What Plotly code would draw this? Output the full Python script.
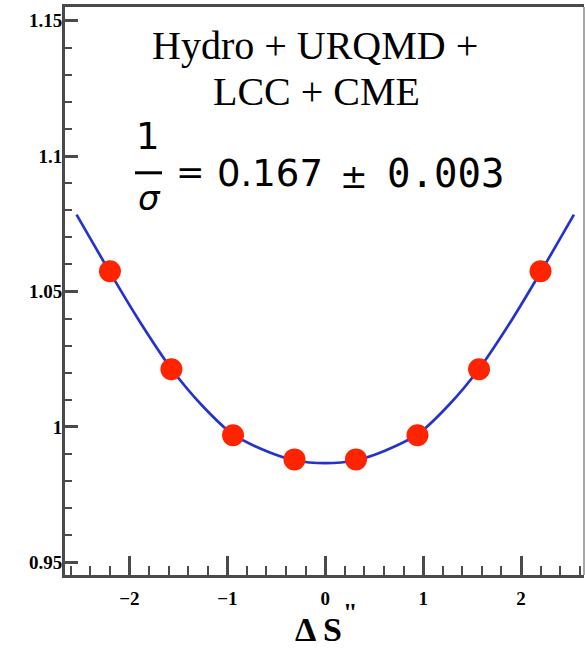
import plotly.graph_objects as go

# ---- data ----
point_x = [-2.199, -1.571, -0.942, -0.314, 0.314, 0.942, 1.571, 2.199]
point_y = [1.0575, 1.0213, 0.9969, 0.9880, 0.9880, 0.9969, 1.0213, 1.0575]

curve_x = [-2.54, -2.205, -1.91, -1.568, -1.26, -0.945, -0.61, -0.316, 0.0,
           0.316, 0.61, 0.945, 1.26, 1.568, 1.91, 2.205, 2.54]
curve_y = [1.0784, 1.0575, 1.0398, 1.0213, 1.0080, 0.9973, 0.9912, 0.9877, 0.9866,
           0.9877, 0.9912, 0.9973, 1.0080, 1.0213, 1.0398, 1.0575, 1.0784]

x_tickvals = [-2, -1, 0, 1, 2]
x_ticktext = ["\u22122", "\u22121", "0", "1", "2"]
y_tickvals = [0.95, 1.0, 1.05, 1.1, 1.15]
y_ticktext = ["0.95", "1", "1.05", "1.1", "1.15"]

W, H = 585, 648
L, R, T, B = 65, 1, 7, 73
PW, PH = W - L - R, H - T - B


def fx(px):
    return (px - L) / PW


def fy(py):
    return (H - B - py) / PH


fig = go.Figure()
fig.add_trace(go.Scatter(x=curve_x, y=curve_y, mode="lines",
                         line=dict(color="#2433cc", width=2.7, shape="spline", smoothing=0.9),
                         showlegend=False, hoverinfo="skip"))
fig.add_trace(go.Scatter(x=point_x, y=point_y, mode="markers",
                         marker=dict(color="#ff2400", size=22, line=dict(width=0)),
                         showlegend=False))

axcol = "#4a4a4a"
fig.update_xaxes(range=[-2.658, 2.643], tickvals=x_tickvals, ticktext=x_ticktext,
                 ticks="inside", ticklen=19, tickwidth=2.5, tickcolor=axcol,
                 ticklabelstandoff=4,
                 showline=True, linewidth=3, linecolor=axcol, mirror=True,
                 showgrid=False, zeroline=False,
                 tickfont=dict(family="Liberation Serif", size=19, color="black", weight="bold"),
                 minor=dict(dtick=0.2, tick0=0, ticks="inside", ticklen=9, tickwidth=2.2,
                            tickcolor=axcol, showgrid=False))
fig.update_yaxes(range=[0.9453, 1.1551], tickvals=y_tickvals, ticktext=y_ticktext,
                 ticks="inside", ticklen=13, tickwidth=2.5, tickcolor=axcol,
                 ticklabelstandoff=-4,
                 showline=True, linewidth=3, linecolor=axcol, mirror=False,
                 showgrid=False, zeroline=False,
                 tickfont=dict(family="Liberation Serif", size=19, color="black", weight="bold"),
                 minor=dict(dtick=0.01, tick0=0.95, ticks="inside", ticklen=7, tickwidth=2.2,
                            tickcolor=axcol, showgrid=False))

serif = "Liberation Serif"
sans = "DejaVu Sans"
mono = "DejaVu Sans Mono"
ann = []


def add(text, px, py, family, size, **kw):
    ann.append(dict(text=text, x=fx(px), y=fy(py), xref="paper", yref="paper",
                    xanchor="center", yanchor="middle", showarrow=False,
                    font=dict(family=family, size=size, color="black", **kw)))


add("Hydro + URQMD +", 315, 46.0, serif, 40)
add("LCC + CME", 316, 91.0, serif, 40)
add("1", 148, 136.2, sans, 37)
add("<i>σ</i>", 149, 198, sans, 34)
add("=", 190, 172, sans, 34)
add("0.167", 269.5, 173.9, sans, 37)
add("±", 353.5, 176.6, sans, 33)
add("0.003", 445, 173.2, mono, 39)
add("Δ S", 318, 629, serif, 34, weight="bold")
add("\"", 350, 612, serif, 26, weight="bold")

shapes = [
    dict(type="line", xref="paper", yref="paper", x0=fx(135), x1=fx(162),
         y0=fy(172.8), y1=fy(172.8), line=dict(color="black", width=3)),
    dict(type="line", xref="paper", yref="paper", x0=1, x1=1, y0=0, y1=1,
         line=dict(color="#8a8a8a", width=1.5)),
]

fig.update_layout(width=W, height=H, margin=dict(l=L, r=R, t=T, b=B),
                  paper_bgcolor="white", plot_bgcolor="white",
                  annotations=ann, shapes=shapes, showlegend=False)

fig.write_html("out.html")
